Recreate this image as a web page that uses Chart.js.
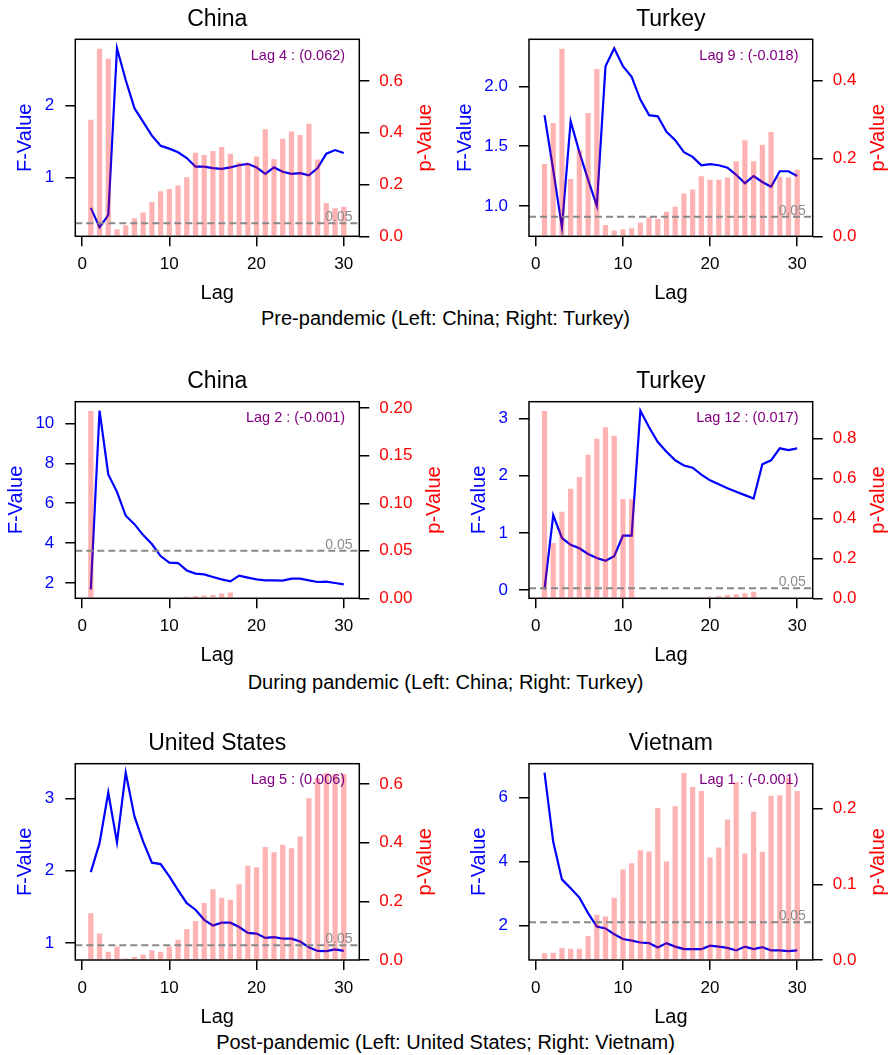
<!DOCTYPE html>
<html>
<head>
<meta charset="utf-8">
<title>F-Value and p-Value by lag</title>
<script src="https://cdn.jsdelivr.net/npm/chart.js@4.4.1/dist/chart.umd.min.js"></script>
<style>
  html, body { margin: 0; padding: 0; background: #fff; }
  body { position: relative; width: 891px; height: 1055px; overflow: hidden; font-family: "Liberation Sans", Arial, sans-serif; }
  canvas { position: absolute; }
  .caption { position: absolute; left: 0; width: 891px; text-align: center; font-size: 20px; line-height: 24px; color: #000; white-space: nowrap; }
</style>
</head>
<body>
<script>
const FONT = '"Liberation Sans", Arial, sans-serif';
Chart.defaults.font.family = FONT;

// data
const lags = [1, 2, 3, 4, 5, 6, 7, 8, 9, 10, 11, 12, 13, 14, 15, 16, 17, 18, 19, 20, 21, 22, 23, 24, 25, 26, 27, 28, 29, 30];
const xTickLabels = ['0', '10', '20', '30'];

const panelTitles = ['China', 'Turkey', 'China', 'Turkey', 'United States', 'Vietnam'];
const lagNotes = ['Lag 4 : (0.062)', 'Lag 9 : (-0.018)', 'Lag 2 : (-0.001)', 'Lag 12 : (0.017)', 'Lag 5 : (0.006)', 'Lag 1 : (-0.001)'];
const rowCaptions = [
  'Pre-pandemic (Left: China; Right: Turkey)',
  'During pandemic (Left: China; Right: Turkey)',
  'Post-pandemic (Left: United States; Right: Vietnam)'
];

// F-values (blue line, left axis)
const fChinaPre = [0.58, 0.31, 0.48, 2.79, 2.35, 1.96, 1.77, 1.58, 1.44, 1.40, 1.35, 1.27, 1.15, 1.15, 1.13, 1.12, 1.14, 1.17, 1.19, 1.14, 1.05, 1.14, 1.08, 1.05, 1.06, 1.03, 1.13, 1.33, 1.38, 1.34];
const fTurkeyPre = [1.76, 1.30, 0.82, 1.71, 1.45, 1.22, 1.00, 2.17, 2.32, 2.17, 2.08, 1.89, 1.76, 1.75, 1.62, 1.55, 1.45, 1.41, 1.34, 1.35, 1.34, 1.32, 1.26, 1.19, 1.25, 1.20, 1.16, 1.29, 1.29, 1.25];
const fChinaDuring = [1.68, 10.64, 7.44, 6.57, 5.37, 4.95, 4.40, 3.95, 3.35, 3.02, 3.00, 2.63, 2.47, 2.43, 2.30, 2.18, 2.08, 2.37, 2.27, 2.18, 2.13, 2.13, 2.12, 2.22, 2.22, 2.13, 2.05, 2.07, 2.00, 1.93];
const fTurkeyDuring = [0.01, 1.31, 0.91, 0.79, 0.73, 0.63, 0.56, 0.51, 0.59, 0.95, 0.95, 3.14, 2.85, 2.59, 2.42, 2.27, 2.18, 2.14, 2.02, 1.92, 1.85, 1.78, 1.72, 1.66, 1.60, 2.20, 2.27, 2.48, 2.45, 2.48];
const fUsPost = [1.98, 2.38, 3.08, 2.39, 3.355, 2.75, 2.40, 2.11, 2.09, 1.92, 1.73, 1.55, 1.46, 1.32, 1.24, 1.28, 1.28, 1.22, 1.14, 1.13, 1.07, 1.08, 1.06, 1.06, 1.02, 0.94, 0.89, 0.888, 0.91, 0.89];
const fVietnamPost = [6.79, 4.62, 3.44, 3.16, 2.87, 2.38, 1.96, 1.90, 1.72, 1.57, 1.52, 1.46, 1.44, 1.30, 1.44, 1.33, 1.25, 1.25, 1.25, 1.36, 1.33, 1.29, 1.21, 1.33, 1.25, 1.31, 1.21, 1.21, 1.19, 1.21];

// p-values (red bars, right axis)
const pChinaPre = [0.450, 0.725, 0.686, 0.027, 0.043, 0.070, 0.092, 0.133, 0.174, 0.183, 0.196, 0.228, 0.323, 0.314, 0.330, 0.345, 0.319, 0.286, 0.283, 0.308, 0.414, 0.299, 0.377, 0.405, 0.391, 0.435, 0.297, 0.129, 0.108, 0.114];
const pTurkeyPre = [0.186, 0.291, 0.482, 0.147, 0.222, 0.317, 0.430, 0.029, 0.015, 0.018, 0.021, 0.035, 0.049, 0.045, 0.063, 0.076, 0.110, 0.120, 0.154, 0.145, 0.145, 0.151, 0.193, 0.247, 0.193, 0.235, 0.268, 0.153, 0.151, 0.171];
const pChinaDuring = [0.197, 0.0, 0.0, 0.0, 0.0, 0.0, 0.0, 0.0, 0.0, 0.0, 0.0003, 0.0015, 0.0025, 0.003, 0.0035, 0.005, 0.006, 0.0008, 0.001, 0.001, 0.001, 0.001, 0.0008, 0.0003, 0.0003, 0.0005, 0.0005, 0.0006, 0.0006, 0.0008];
const pTurkeyDuring = [0.936, 0.276, 0.433, 0.548, 0.607, 0.717, 0.798, 0.855, 0.812, 0.496, 0.496, 0.0, 0.0, 0.0, 0.0, 0.0, 0.0, 0.001, 0.007, 0.008, 0.012, 0.017, 0.020, 0.025, 0.033, 0.0, 0.0, 0.0, 0.0, 0.0];
const pUsPost = [0.159, 0.090, 0.028, 0.046, 0.005, 0.010, 0.019, 0.033, 0.028, 0.046, 0.069, 0.106, 0.133, 0.194, 0.241, 0.212, 0.205, 0.258, 0.321, 0.316, 0.385, 0.367, 0.393, 0.381, 0.421, 0.551, 0.620, 0.637, 0.634, 0.635];
const pVietnamPost = [0.0088, 0.0097, 0.0158, 0.0149, 0.0149, 0.0316, 0.0598, 0.0576, 0.0822, 0.1196, 0.1279, 0.1451, 0.1433, 0.2009, 0.1301, 0.2031, 0.2470, 0.2286, 0.2233, 0.1354, 0.1486, 0.1855, 0.2352, 0.1407, 0.1960, 0.1429, 0.2171, 0.2176, 0.2409, 0.2233];

// tick labels
const fTicksChinaPre = ['1', '2'];
const fTicksTurkeyPre = ['1.0', '1.5', '2.0'];
const fTicksChinaDuring = ['2', '4', '6', '8', '10'];
const fTicksTurkeyDuring = ['0', '1', '2', '3'];
const fTicksUsPost = ['1', '2', '3'];
const fTicksVietnamPost = ['2', '4', '6'];
const pTicksChinaPre = ['0.0', '0.2', '0.4', '0.6'];
const pTicksTurkeyPre = ['0.0', '0.2', '0.4'];
const pTicksChinaDuring = ['0.00', '0.05', '0.10', '0.15', '0.20'];
const pTicksTurkeyDuring = ['0.0', '0.2', '0.4', '0.6', '0.8'];
const pTicksUsPost = ['0.0', '0.2', '0.4', '0.6'];
const pTicksVietnamPost = ['0.0', '0.1', '0.2'];

const fSeries = [fChinaPre, fTurkeyPre, fChinaDuring, fTurkeyDuring, fUsPost, fVietnamPost];
const pSeries = [pChinaPre, pTurkeyPre, pChinaDuring, pTurkeyDuring, pUsPost, pVietnamPost];
const fTicks = [fTicksChinaPre, fTicksTurkeyPre, fTicksChinaDuring, fTicksTurkeyDuring, fTicksUsPost, fTicksVietnamPost];
const pTicks = [pTicksChinaPre, pTicksTurkeyPre, pTicksChinaDuring, pTicksTurkeyDuring, pTicksUsPost, pTicksVietnamPost];

// layout
const colLeft = [0, 445], colWidth = [445, 446];
const plotLeft = [75.3, 84], plotRight = [359.3, 367.7];
const rowTop = [0, 362, 724], plotTop = [39.3, 39.7, 39.7], plotBottom = [236.3, 236.3, 236];
const canvasHeight = 310;
const captionTop = [305.5, 669.5, 1029.5];
const barWidth = 0.6;

rowCaptions.forEach((txt, r) => {
  const d = document.createElement('div');
  d.className = 'caption';
  d.style.top = captionTop[r] + 'px';
  d.textContent = txt;
  document.body.appendChild(d);
});

const panelDecor = {
  id: 'panelDecor',
  afterDatasetsDraw(chart, args, o) {
    const {ctx, chartArea: a, scales: {x, y1}} = chart;
    const yp = y1.getPixelForValue(0.05);
    ctx.save();
    ctx.strokeStyle = '#888888';
    ctx.lineWidth = 2;
    ctx.setLineDash([7, 4]);
    ctx.beginPath();
    ctx.moveTo(a.left, yp);
    ctx.lineTo(a.right, yp);
    ctx.stroke();
    ctx.setLineDash([]);
    ctx.textAlign = 'right';
    ctx.textBaseline = 'alphabetic';
    ctx.font = '14px ' + FONT;
    ctx.fillStyle = '#8c8c8c';
    ctx.fillText('0.05', x.getPixelForValue(31), yp - 2);
    ctx.font = '14.5px ' + FONT;
    ctx.fillStyle = '#800080';
    ctx.fillText(o.note, a.left + 0.95 * (a.right - a.left), a.top + 0.05 * (a.bottom - a.top) + 10.6);
    ctx.restore();
  },
  afterDraw(chart, args, o) {
    const {ctx, chartArea: a} = chart;
    const cx = (a.left + a.right) / 2, cy = (a.top + a.bottom) / 2;
    ctx.save();
    ctx.strokeStyle = '#000';
    ctx.lineWidth = 1.5;
    ctx.strokeRect(a.left, a.top, a.right - a.left, a.bottom - a.top);
    ctx.fillStyle = '#000';
    ctx.textAlign = 'center';
    ctx.textBaseline = 'alphabetic';
    ctx.font = '23px ' + FONT;
    ctx.fillText(o.title, cx, a.top - 13.4);
    ctx.font = '20px ' + FONT;
    ctx.fillText('Lag', cx, a.bottom + 63);
    ctx.font = '17px ' + FONT;
    const wL = Math.max(...o.fTicks.map(t => ctx.measureText(t).width));
    const wR = Math.max(...o.pTicks.map(t => ctx.measureText(t).width));
    ctx.font = '20px ' + FONT;
    ctx.save();
    ctx.fillStyle = '#0000ff';
    ctx.translate(a.left - 21 - wL - 13.4, cy);
    ctx.rotate(-Math.PI / 2);
    ctx.fillText('F-Value', 0, 0);
    ctx.restore();
    ctx.save();
    ctx.fillStyle = '#ff0000';
    ctx.translate(a.right + 21 + wR + 27, cy);
    ctx.rotate(-Math.PI / 2);
    ctx.fillText('p-Value', 0, 0);
    ctx.restore();
    ctx.restore();
  }
};

function tickGrid() {
  return { display: true, drawOnChartArea: false, drawTicks: true, tickLength: 10, tickColor: '#000', lineWidth: 1.5, offset: false };
}

function makePanel(i) {
  const col = i % 2, row = Math.floor(i / 2);
  const canvas = document.createElement('canvas');
  canvas.width = colWidth[col];
  canvas.height = canvasHeight;
  canvas.style.left = colLeft[col] + 'px';
  canvas.style.top = rowTop[row] + 'px';
  document.body.appendChild(canvas);

  const F = fSeries[i], P = pSeries[i];
  const fMin = Math.min(...F), fMax = Math.max(...F), fPad = 0.05 * (fMax - fMin);
  const pMax = Math.max(...P) * 1.05;
  const xLo = lags[0] - barWidth / 2, xHi = lags[lags.length - 1] + barWidth / 2, xPad = 0.05 * (xHi - xLo);
  const fLab = fTicks[i], pLab = pTicks[i];

  new Chart(canvas, {
    type: 'bar',
    data: {
      datasets: [
        {
          type: 'bar',
          label: 'p-Value',
          data: lags.map((x, k) => ({x: x, y: P[k]})),
          yAxisID: 'y1',
          backgroundColor: 'rgba(255,0,0,0.3)',
          borderWidth: 0,
          barPercentage: barWidth,
          categoryPercentage: 1,
          order: 0
        },
        {
          type: 'line',
          label: 'F-Value',
          data: lags.map((x, k) => ({x: x, y: F[k]})),
          yAxisID: 'y',
          borderColor: '#0000ff',
          borderWidth: 2.2,
          pointRadius: 0,
          tension: 0,
          fill: false,
          order: 1
        }
      ]
    },
    options: {
      responsive: false,
      maintainAspectRatio: false,
      animation: false,
      devicePixelRatio: 1,
      layout: { padding: { top: plotTop[row], left: 0, right: 0, bottom: 0 } },
      plugins: {
        legend: { display: false },
        tooltip: { enabled: false },
        title: { display: false },
        panelDecor: { title: panelTitles[i], note: lagNotes[i], fTicks: fLab, pTicks: pLab }
      },
      scales: {
        x: {
          type: 'linear',
          min: xLo - xPad,
          max: xHi + xPad,
          offset: false,
          grid: tickGrid(),
          border: { display: false },
          ticks: { color: '#000', font: { size: 17 }, padding: 8, maxRotation: 0, autoSkip: false, callback: (v, k) => xTickLabels[k] },
          afterBuildTicks: s => { s.ticks = xTickLabels.map(t => ({value: parseFloat(t)})); },
          afterFit: s => { s.height = canvasHeight - plotBottom[row]; }
        },
        y: {
          type: 'linear',
          position: 'left',
          min: fMin - fPad,
          max: fMax + fPad,
          beginAtZero: false,
          grid: tickGrid(),
          border: { display: false },
          ticks: { color: '#0000ff', font: { size: 17 }, padding: 11, autoSkip: false, callback: (v, k) => fLab[k] },
          afterBuildTicks: s => { s.ticks = fLab.map(t => ({value: parseFloat(t)})); },
          afterFit: s => { s.width = plotLeft[col]; }
        },
        y1: {
          type: 'linear',
          position: 'right',
          min: 0,
          max: pMax,
          grid: tickGrid(),
          border: { display: false },
          ticks: { color: '#ff0000', font: { size: 17 }, padding: 10, autoSkip: false, callback: (v, k) => pLab[k] },
          afterBuildTicks: s => { s.ticks = pLab.map(t => ({value: parseFloat(t)})); },
          afterFit: s => { s.width = colWidth[col] - plotRight[col]; }
        }
      }
    },
    plugins: [panelDecor]
  });
}

for (let i = 0; i < 6; i++) makePanel(i);
</script>
</body>
</html>
